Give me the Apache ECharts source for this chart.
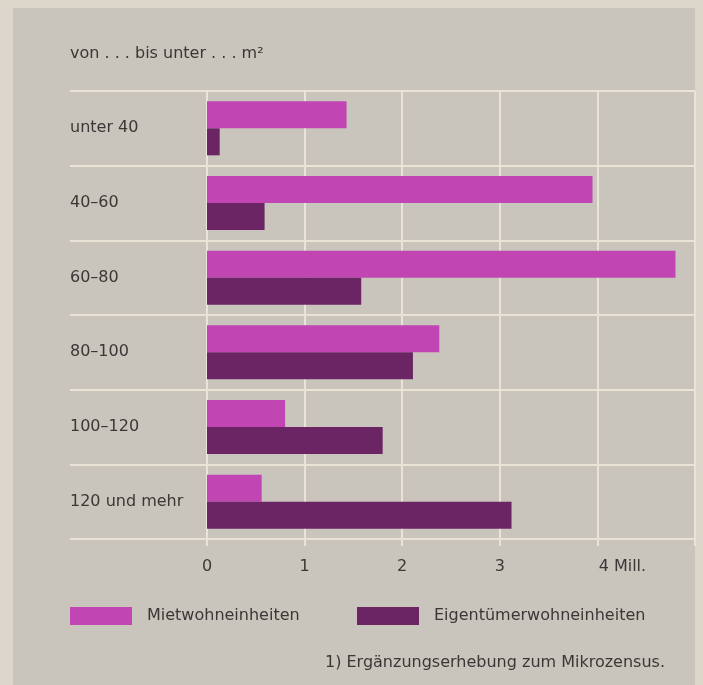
<!DOCTYPE html>
<html>
<head>
<meta charset="utf-8">
<script src="https://cdn.jsdelivr.net/npm/echarts@6/dist/echarts.min.js"></script>
<style>
html,body{margin:0;padding:0;}
body{background:#ddd6ca;position:relative;width:703px;height:685px;overflow:hidden;}
#panel{position:absolute;left:13px;top:8px;width:682px;height:677px;background:#c9c5bd;}
#c{position:absolute;left:0;top:0;width:703px;height:685px;}
</style>
</head>
<body>
<div id="panel"></div>
<div id="c"></div>
<script>
const categories = ['unter 40', '40\u201360', '60\u201380', '80\u2013100', '100\u2013120', '120 und mehr'];
const mietValues = [1.43, 3.95, 4.80, 2.38, 0.80, 0.56];
const eigenValues = [0.13, 0.59, 1.58, 2.11, 1.80, 3.12];
const xTicks = ['0', '1', '2', '3', '4 Mill.'];
const seriesNames = ['Mietwohneinheiten', 'Eigent\u00fcmerwohneinheiten'];

const FONT = 'DejaVu Sans';
const FS = 16;
const TXT = '#3a3836';
const GRIDC = '#e9e4d6';

const chart = echarts.init(document.getElementById('c'), null, {renderer: 'canvas'});
chart.setOption({
  backgroundColor: 'transparent',
  animation: false,
  textStyle: {fontFamily: FONT},
  title: {
    text: 'von . . . bis unter . . . m\u00b2',
    left: 70, top: 46, padding: 0,
    textStyle: {fontFamily: FONT, fontSize: FS, fontWeight: 'normal', color: TXT}
  },
  legend: [
    {data: [seriesNames[0]], left: 70, top: 607, padding: 0, icon: 'rect', itemWidth: 62, itemHeight: 18,
     textStyle: {fontFamily: FONT, fontSize: FS, color: TXT, padding: [0,0,0,10]}},
    {data: [seriesNames[1]], left: 357, top: 607, padding: 0, icon: 'rect', itemWidth: 62, itemHeight: 18,
     textStyle: {fontFamily: FONT, fontSize: FS, color: TXT, padding: [0,0,0,10]}}
  ],
  grid: [
    {left: 207, right: 8, top: 91, bottom: 146},
    {left: 70, right: 8, top: 91, bottom: 146}
  ],
  xAxis: [
    {type: 'value', gridIndex: 0, min: 0, max: 5, interval: 1,
     axisLine: {show: false},
     axisTick: {show: true, length: 7, lineStyle: {color: GRIDC, width: 2}},
     splitLine: {show: true, lineStyle: {color: GRIDC, width: 2}},
     axisLabel: {margin: 20, fontFamily: FONT, fontSize: FS, color: TXT,
       formatter: function (v) {
         const i = Math.round(v);
         if (i >= xTicks.length) return '';
         if (xTicks[i].length > 1) return '{l|' + xTicks[i] + '}';
         return xTicks[i];
       },
       rich: {l: {fontFamily: FONT, fontSize: FS, color: TXT, padding: [0, 0, 0, 50]}}
     }},
    {type: 'value', gridIndex: 1, min: 0, max: 1, show: false}
  ],
  yAxis: [
    {type: 'category', gridIndex: 0, data: categories, inverse: true,
     axisLine: {show: false}, axisTick: {show: false}, splitLine: {show: false},
     axisLabel: {align: 'left', margin: 137, fontFamily: FONT, fontSize: FS, color: TXT}},
    {type: 'category', gridIndex: 1, data: categories, inverse: true,
     axisLine: {show: false}, axisTick: {show: false}, axisLabel: {show: false},
     splitLine: {show: true, lineStyle: {color: GRIDC, width: 2}}}
  ],
  series: [
    {name: seriesNames[0], type: 'bar', xAxisIndex: 0, yAxisIndex: 0, data: mietValues,
     barWidth: 27, barGap: '0%', itemStyle: {color: '#c145b2'}},
    {name: seriesNames[1], type: 'bar', xAxisIndex: 0, yAxisIndex: 0, data: eigenValues,
     barWidth: 27, barGap: '0%', itemStyle: {color: '#6b2565'}}
  ],
  graphic: [
    {type: 'text', right: 38, top: 655,
     style: {text: '1) Erg\u00e4nzungserhebung zum Mikrozensus.', font: '16px "DejaVu Sans"', fill: TXT}}
  ]
});
</script>
</body>
</html>
